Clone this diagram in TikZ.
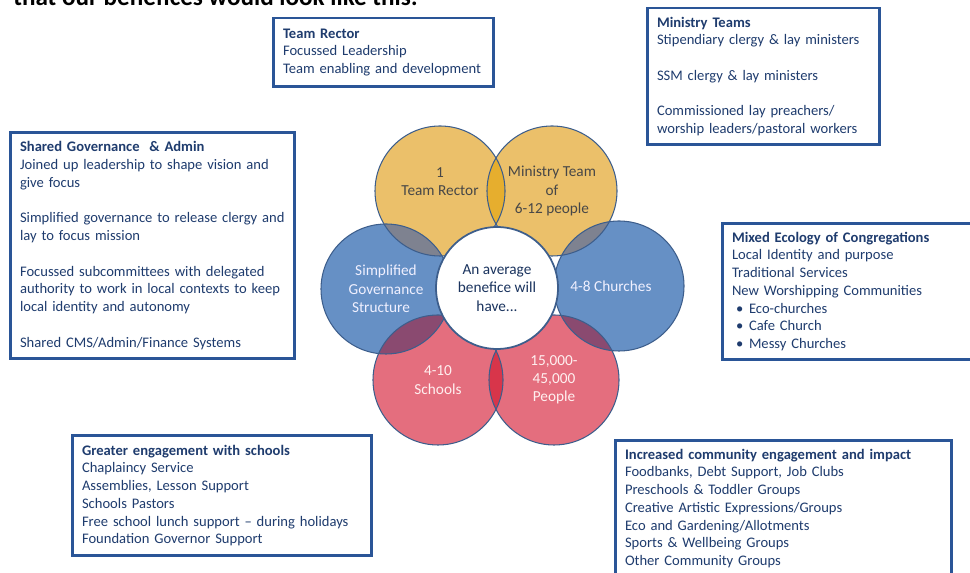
\documentclass[tikz,border=0pt]{standalone}
\usepackage{fontspec}
\setmainfont{Carlito}

\definecolor{navy}{HTML}{1F3C6E}
\definecolor{boxblue}{HTML}{2A5597}
\definecolor{ringline}{HTML}{3D5E8C}
\definecolor{goldfill}{HTML}{EBC06A}
\definecolor{bluefill}{HTML}{6690C5}
\definecolor{redfill}{HTML}{E46E7E}
\definecolor{goldlens}{HTML}{E6AE2E}
\definecolor{greylens}{HTML}{7E8290}
\definecolor{plumlens}{HTML}{8A4A70}
\definecolor{redlens}{HTML}{D8354A}
\hyphenpenalty=10000

\begin{document}
\begin{tikzpicture}[x=0.02cm, y=-0.02cm,
  infobox/.style={draw=boxblue, line width=1.7pt, fill=white, align=left,
    text=navy, inner xsep=0.2cm, inner ysep=0pt,
    font=\fontsize{8.3}{10.1}\selectfont},
  petal/.style={circle, minimum size=2.6cm, inner sep=0pt, align=center,
    font=\fontsize{8.7}{10.4}\selectfont},
  ring/.style={draw=ringline, line width=0.6pt}]
\useasboundingbox (0,0) rectangle (970,573);

% heading of the page, cut at the top
\node[anchor=base west, inner sep=0pt, font=\bfseries\fontsize{14.3}{16}\selectfont] (heading) at (13,6) {that our benefices would look like this:};

% the six petals
\node[petal, fill=goldfill, text=black!72] (rector) at (440,191) {1\\Team Rector\\ \mbox{}};
\node[petal, fill=goldfill, text=black!72] (ministry) at (552,191) {Ministry Team\\of\\6-12 people};
\node[petal, fill=bluefill, text=white!94!blue] (churches) at (619,286) {4-8 Churches\hspace*{0.32cm}};
\node[petal, fill=redfill, text=white!94!red] (people) at (554,380) {15,000-\\45,000\\People};
\node[petal, fill=redfill, text=white!94!red] (schools) at (438,380) {4-10\\Schools};
\node[petal, fill=bluefill, text=white!94!blue] (governance) at (386,289) {Simplified\\Governance\\Structure\hspace*{0.2cm}};

% where neighbouring petals meet
\begin{scope}
\clip (rector.center) circle [radius=65];
\fill[goldlens] (ministry.center) circle [radius=65];
\end{scope}
\begin{scope}
\clip (ministry.center) circle [radius=65];
\fill[greylens] (churches.center) circle [radius=65];
\end{scope}
\begin{scope}
\clip (churches.center) circle [radius=65];
\fill[plumlens] (people.center) circle [radius=65];
\end{scope}
\begin{scope}
\clip (people.center) circle [radius=65];
\fill[redlens] (schools.center) circle [radius=65];
\end{scope}
\begin{scope}
\clip (schools.center) circle [radius=65];
\fill[plumlens] (governance.center) circle [radius=65];
\end{scope}
\begin{scope}
\clip (governance.center) circle [radius=65];
\fill[greylens] (rector.center) circle [radius=65];
\end{scope}
\foreach \p in {rector,ministry,churches,people,schools,governance}
  \draw[ring] (\p.center) circle [radius=65];

\node[circle, draw=ringline, line width=1pt, fill=white, minimum size=2.44cm, align=center,
  text=navy!85!black, font=\fontsize{8.7}{10.4}\selectfont] (hub) at (497,288) {An average\\benefice will\\have...};

% boxes round the outside
\node[infobox, minimum width=4.42cm, minimum height=1.38cm, text width=4.02cm] (rectorbox) at (383.5,52.5)
  {\textbf{Team Rector}\\Focussed Leadership\\Team enabling and development};
\node[infobox, minimum width=4.66cm, minimum height=2.74cm, text width=4.26cm] (ministrybox) at (763.5,76.5)
  {\textbf{Ministry Teams}\\Stipendiary clergy \& lay ministers\\[10.1pt]SSM clergy \& lay ministers\\[10.1pt]Commissioned lay preachers/\\worship leaders/pastoral workers};
\node[infobox, minimum width=5.7cm, minimum height=4.54cm, text width=5.3cm] (govbox) at (152.5,245.5)
  {\textbf{Shared Governance \ \& Admin}\\Joined up leadership to shape vision and\\give focus\\[10.1pt]Simplified governance to release clergy and\\lay to focus mission\\[10.1pt]Focussed subcommittees with delegated\\authority to work in local contexts to keep\\local identity and autonomy\\[10.1pt]Shared CMS/Admin/Finance Systems};
\node[infobox, minimum width=5.16cm, minimum height=2.74cm, text width=4.76cm] (ecologybox) at (851,291.5)
  {\textbf{Mixed Ecology of Congregations}\\Local Identity and purpose\\Traditional Services\\New Worshipping Communities\\
   \hspace*{0.08cm}\makebox[0.26cm][l]{\textbullet}Eco-churches\\
   \hspace*{0.08cm}\makebox[0.26cm][l]{\textbullet}Cafe Church\\
   \hspace*{0.08cm}\makebox[0.26cm][l]{\textbullet}Messy Churches};
\node[infobox, minimum width=6cm, minimum height=2.42cm, text width=5.6cm] (schoolbox) at (222,495.5)
  {\textbf{Greater engagement with schools}\\Chaplaincy Service\\Assemblies, Lesson Support\\Schools Pastors\\Free school lunch support -- during holidays\\Foundation Governor Support};
\node[infobox, minimum width=6.74cm, minimum height=2.74cm, text width=6.34cm] (communitybox) at (783.5,508.5)
  {\textbf{Increased community engagement and impact}\\Foodbanks, Debt Support, Job Clubs\\Preschools \& Toddler Groups\\Creative Artistic Expressions/Groups\\Eco and Gardening/Allotments\\Sports \& Wellbeing Groups\\Other Community Groups};
\end{tikzpicture}
\end{document}
